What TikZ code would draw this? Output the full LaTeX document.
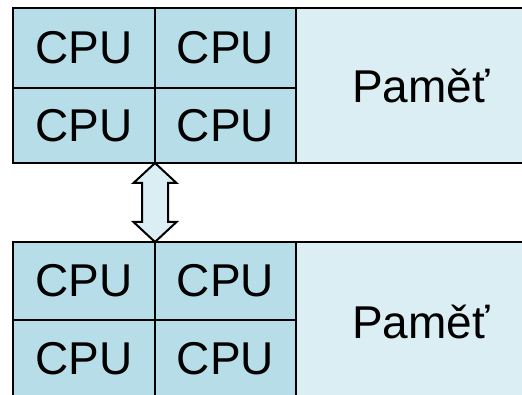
\documentclass[tikz,border=0pt]{standalone}
\usepackage{fontspec}
\setmainfont{Liberation Sans}
\definecolor{cpufill}{HTML}{B7DEE8}
\definecolor{memfill}{HTML}{DAEEF3}
\tikzset{
  cell/.style={draw=black, line width=2pt, fill=cpufill, inner sep=0pt, outer sep=0pt, font=\fontsize{46}{50}\selectfont},
  memcell/.style={draw=black, line width=2pt, fill=memfill, inner sep=0pt, outer sep=0pt},
  memlabel/.style={anchor=base, inner sep=0pt, font=\fontsize{46}{50}\selectfont},
  linkarrow/.style={draw=black, line width=2pt, fill=memfill, line join=miter}
}
\begin{document}
\begin{tikzpicture}[x=1pt,y=-1pt]
\clip (0,0) rectangle (522,395);
\fill[white] (0,0) rectangle (522,395);
% top block
\node[memcell, minimum width=244pt, minimum height=155pt] (tm) at (418,85.5) {};
\node[memlabel] (tml) at (421,103) {Paměť};
\node[cell, minimum width=142pt, minimum height=80pt] (t11) at (84,48) {CPU};
\node[cell, minimum width=141pt, minimum height=80pt] (t12) at (225.5,48) {CPU};
\node[cell, minimum width=142pt, minimum height=75pt] (t21) at (84,125.5) {CPU};
\node[cell, minimum width=141pt, minimum height=75pt] (t22) at (225.5,125.5) {CPU};
% bottom block
\node[memcell, minimum width=244pt, minimum height=156pt] (bm) at (418,320) {};
\node[memlabel] (bml) at (421,338) {Paměť};
\node[cell, minimum width=142pt, minimum height=78pt] (b11) at (84,281) {CPU};
\node[cell, minimum width=141pt, minimum height=78pt] (b12) at (225.5,281) {CPU};
\node[cell, minimum width=142pt, minimum height=78pt] (b21) at (84,359) {CPU};
\node[cell, minimum width=141pt, minimum height=78pt] (b22) at (225.5,359) {CPU};
% double arrow between blocks
\draw[linkarrow] (t21.south east) -- ++(21.5,20) -- ++(-8.5,0) -- ++(0,39)
  -- ++(8.5,0) -- (b11.north east) -- ++(-21.5,-20) -- ++(8.5,0)
  -- ++(0,-39) -- ++(-8.5,0) -- cycle;
\end{tikzpicture}
\end{document}
